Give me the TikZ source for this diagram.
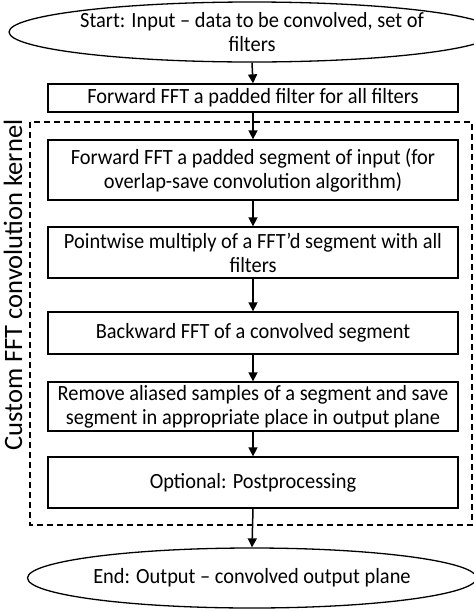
\documentclass[tikz,border=0pt]{standalone}
\usepackage{fontspec}
\setmainfont{Carlito}[FakeStretch=0.94]
\newfontfamily\labelfont{Carlito}
\usetikzlibrary{shapes.geometric,arrows.meta}
\begin{document}
\begin{tikzpicture}[x=1pt, y=-1pt,
    font=\fontsize{21.7}{24}\selectfont,
    stepbox/.style={draw, line width=1.3pt, minimum width=410pt, inner sep=0pt, align=center},
    terminal/.style={draw, ellipse, line width=1.3pt, minimum width=410pt, minimum height=60pt, inner sep=0pt, align=center},
    flow/.style={line width=1.5pt, -{Triangle[length=9pt, width=9pt]}}]
    \useasboundingbox (0,0) rectangle (474,611);

    % Kernel region
    \draw[line width=1.2pt, dash pattern=on 6pt off 4pt] (30,122) rectangle (472,525);
    \node[rotate=90, font=\labelfont\fontsize{26.5}{30}\selectfont] (kernel) at (13,285) {Custom FFT convolution kernel};

    % Start and end
    \node[terminal] (start) at (252,32) {Start: Input -- data to be convolved, set of\\filters};
    \node[terminal] (stop) at (252,578) {End: Output -- convolved output plane};

    % Processing steps
    \node[stepbox, minimum height=28pt] (filt) at (253,98) {Forward FFT a padded filter for all filters};
    \node[stepbox, minimum height=60pt] (seg) at (253,170) {Forward FFT a padded segment of input (for\\overlap-save convolution algorithm)};
    \node[stepbox, minimum height=51pt] (mult) at (253,252.5) {Pointwise multiply of a FFT’d segment with all\\filters};
    \node[stepbox, minimum height=42pt] (back) at (253,333) {Backward FFT of a convolved segment};
    \node[stepbox, minimum height=49pt] (alias) at (253,406.5) {Remove aliased samples of a segment and save\\segment in appropriate place in output plane};
    \node[stepbox, minimum height=51pt] (post) at (253,482.5) {Optional: Postprocessing};

    % Connectors
    \draw[flow] (start.south) -- (filt.north);
    \foreach \a/\b in {filt/seg, seg/mult, mult/back, back/alias, alias/post, post/stop} {
        \draw[flow] (\a.south) -- (\b.north);
    }
\end{tikzpicture}
\end{document}
